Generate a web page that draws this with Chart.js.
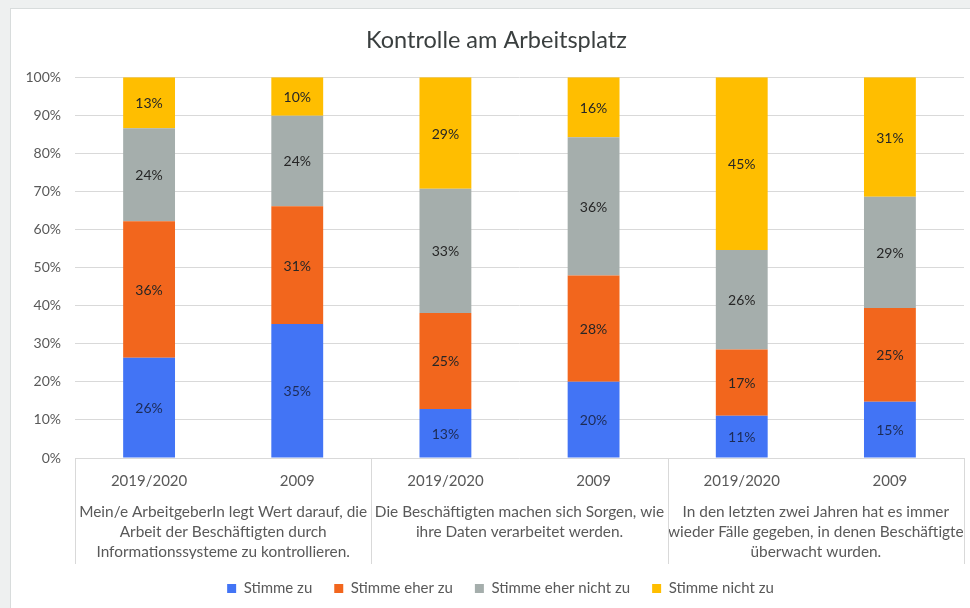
<!DOCTYPE html>
<html>
<head>
<meta charset="utf-8">
<script src="https://cdn.jsdelivr.net/npm/chart.js@4"></script>
<style>
    html, body { margin: 0; padding: 0; overflow: hidden; }
    body { width: 970px; height: 608px; background: #eef0f0; position: relative; }
    #panel {
        position: absolute; left: 10px; top: 8px; width: 960px; height: 600px;
        background: #fff; border-left: 1px solid #d8dcdc; border-top: 1px solid #d8dcdc;
        overflow: hidden;
    }
    canvas { display: block; }
</style>
</head>
<body>
<div id="panel"><canvas id="chart" width="959" height="597"></canvas></div>
<script>
// Data (percent of answers)
const yearLabels = ['2019/2020', '2009', '2019/2020', '2009', '2019/2020', '2009'];
const groupLabels = [
    ['Mein/e ArbeitgeberIn legt Wert darauf, die', 'Arbeit der Beschäftigten durch', 'Informationssysteme zu kontrollieren.'],
    ['Die Beschäftigten machen sich Sorgen, wie', 'ihre Daten verarbeitet werden.'],
    ['In den letzten zwei Jahren hat es immer', 'wieder Fälle gegeben, in denen Beschäftigte', 'überwacht wurden.']
];
const stimmeZu = [26.3, 35.2, 12.9, 20.0, 11.1, 14.8];
const stimmeEherZu = [35.9, 30.9, 25.2, 27.9, 17.4, 24.6];
const stimmeEherNichtZu = [24.4, 23.8, 32.6, 36.3, 26.1, 29.2];
const stimmeNichtZu = [13.4, 10.1, 29.3, 15.8, 45.4, 31.4];
const yTicks = [0, 10, 20, 30, 40, 50, 60, 70, 80, 90, 100];

const FONT = 'Lato, "Open Sans", sans-serif';
const TEXT = '#595959';

// Percent labels in the middle of each segment
const barLabels = {
    id: 'barLabels',
    afterDatasetsDraw(chart) {
        const ctx = chart.ctx;
        ctx.save();
        ctx.font = '14px ' + FONT;
        ctx.textAlign = 'center';
        ctx.textBaseline = 'middle';
        chart.data.datasets.forEach((ds, i) => {
            chart.getDatasetMeta(i).data.forEach((bar, j) => {
                ctx.fillStyle = i === 0 ? '#1d2b55' : '#262626';
                ctx.fillText(Math.round(ds.data[j]) + '%', bar.x, (bar.y + bar.base) / 2 + 1);
            });
        });
        ctx.restore();
    }
};

// Vertical lines separating the three question groups on the category axis
const groupLines = {
    id: 'groupLines',
    afterDraw(chart) {
        const x = chart.scales.x;
        const x2 = chart.scales.x2;
        const ctx = chart.ctx;
        const top = chart.chartArea.bottom;
        const bottom = x2.bottom + 5;
        const edges = [chart.chartArea.left];
        for (let i = 1; i + 1 < yearLabels.length; i += 2) {
            edges.push((x.getPixelForValue(i) + x.getPixelForValue(i + 1)) / 2);
        }
        edges.push(chart.chartArea.right);
        ctx.save();
        ctx.strokeStyle = '#d9d9d9';
        ctx.lineWidth = 1;
        edges.forEach(px => {
            const p = Math.round(px) + 0.5;
            ctx.beginPath();
            ctx.moveTo(p, top);
            ctx.lineTo(p, bottom);
            ctx.stroke();
        });
        ctx.restore();
    }
};

// Title and legend sit a little right of the canvas centre in the original
const boxShift = {
    id: 'boxShift',
    afterLayout(chart) {
        chart.legend.left += 13;
        chart.legend.right += 13;
        chart.titleBlock.left += 9;
        chart.titleBlock.right += 9;
    }
};

new Chart(document.getElementById('chart'), {
    type: 'bar',
    data: {
        labels: yearLabels,
        datasets: [
            { label: 'Stimme zu', data: stimmeZu, backgroundColor: '#4274f5' },
            { label: 'Stimme eher zu', data: stimmeEherZu, backgroundColor: '#f2661d' },
            { label: 'Stimme eher nicht zu', data: stimmeEherNichtZu, backgroundColor: '#a5aeac' },
            { label: 'Stimme nicht zu', data: stimmeNichtZu, backgroundColor: '#ffbe00' }
        ]
    },
    options: {
        responsive: false,
        animation: false,
        devicePixelRatio: 1,
        layout: { padding: { left: 0, right: 6, top: 0, bottom: 0 } },
        datasets: { bar: { categoryPercentage: 1, barPercentage: 0.35, borderWidth: 0 } },
        plugins: {
            title: {
                display: true,
                text: 'Kontrolle am Arbeitsplatz',
                color: '#3a3f3f',
                font: { family: FONT, size: 23.5, weight: 'normal', lineHeight: 1.2 },
                padding: { top: 17, bottom: 23 }
            },
            legend: {
                position: 'bottom',
                labels: {
                    boxWidth: 9,
                    boxHeight: 9,
                    padding: 22,
                    color: TEXT,
                    font: { family: FONT, size: 15 }
                }
            },
            tooltip: { enabled: false }
        },
        scales: {
            x: {
                stacked: true,
                weight: 0,
                grid: { display: false },
                border: { display: false },
                ticks: { color: TEXT, font: { family: FONT, size: 15 }, padding: 6, maxRotation: 0, autoSkip: false },
                afterFit: scale => { scale.height = 36; }
            },
            x2: {
                type: 'category',
                position: 'bottom',
                labels: groupLabels,
                offset: true,
                weight: 1,
                grid: { display: false },
                border: { display: false },
                ticks: {
                    color: TEXT,
                    font: { family: FONT, size: 15.4, lineHeight: 1.3 },
                    padding: 0,
                    maxRotation: 0,
                    minRotation: 0,
                    autoSkip: false
                },
                afterFit: scale => { scale.height = 65; }
            },
            y: {
                stacked: true,
                min: 0,
                max: 100,
                afterBuildTicks: scale => { scale.ticks = yTicks.map(v => ({ value: v })); },
                grid: { color: '#d9d9d9', drawTicks: false },
                border: { display: false },
                ticks: {
                    color: TEXT,
                    font: { family: FONT, size: 14 },
                    padding: 14,
                    callback: v => v + '%'
                },
                afterFit: scale => { scale.width = 64; }
            }
        }
    },
    plugins: [barLabels, groupLines, boxShift]
});
</script>
</body>
</html>
